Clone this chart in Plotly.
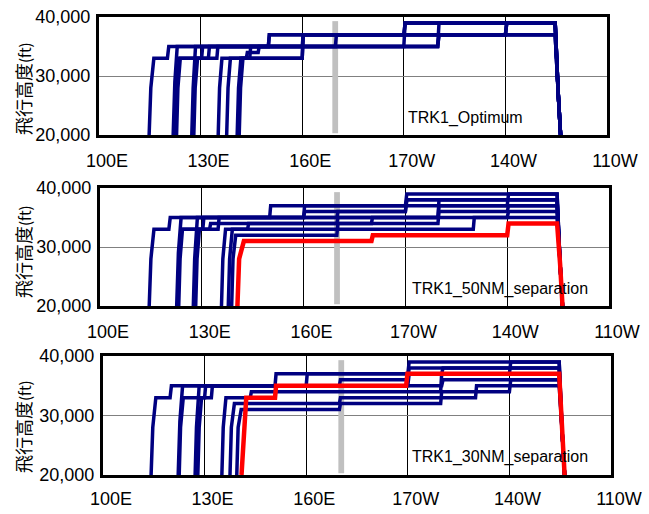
import plotly.graph_objects as go

# ---------------- data ----------------
X_TICKS = [100, 130, 160, 190, 220, 250]
X_LABELS = ["100E", "130E", "160E", "170W", "140W", "110W"]
Y_TICKS = [20000, 30000, 40000]

# common descent (longitude, altitude below the final level)
DESC_LON = [234.7, 235.6, 236.3]
DESC_ALT = [27000, 20000]

# Panel 1 : TRK1_Optimum
P1_LON = [
    [114.8, 115.3, 116.2, 120.2, 120.6, 169.8, 170.1, 190.0, 190.4],
    [121.9, 122.4, 123.1, 150.0, 150.3, 220.0, 220.4],
    [122.6, 123.0, 123.7, 130.3, 130.6, 200.0, 200.4],
    [127.4, 127.8, 128.5, 190.0, 190.4],
    [128.0, 128.4, 129.1, 132.3, 132.6, 200.0, 200.4],
    [122.9, 123.3, 124.0, 134.8, 135.1, 160.0, 160.3, 220.0, 220.4],
    [135.2, 135.6, 136.3, 160.0, 160.3, 220.0, 220.4],
    [137.7, 138.1, 138.8, 143.5, 143.8, 147.0, 147.3, 150.0, 150.3],
    [140.8, 141.2, 141.9, 160.0, 160.3, 190.0, 190.4],
    [141.4, 141.8, 142.5, 144.5, 144.8, 200.0, 200.4],
]
P1_ALT = [
    [20000, 28000, 33000, 33000, 35000, 35000, 37000, 37000, 39000],
    [20000, 29000, 35000, 35000, 37000, 37000, 39000],
    [20000, 28000, 33000, 33000, 35000, 35000, 37000],
    [20000, 28000, 35000, 35000, 39000],
    [20000, 28000, 33000, 33000, 35000, 35000, 39000],
    [20000, 28000, 33000, 33000, 35000, 35000, 37000, 37000, 39000],
    [20000, 28000, 33000, 33000, 37000, 37000, 39000],
    [20000, 28000, 33000, 33000, 34000, 34000, 35000, 35000, 37000],
    [20000, 28000, 33000, 33000, 37000, 37000, 39000],
    [20000, 28000, 33000, 33000, 35000, 35000, 37000],
]
P1_RED_LON = []
P1_RED_ALT = []

# Panel 2 : TRK1_50NM_separation
P2_LON = [
    [114.5, 115.0, 115.9, 120.3, 120.7, 150.0, 150.3, 190.0, 190.4],
    [122.6, 123.1, 123.9, 169.8, 170.1, 190.0, 190.4],
    [123.2, 123.6, 124.3, 130.3, 130.6, 160.0, 160.3, 220.0, 220.4],
    [127.5, 127.9, 128.7, 199.6, 199.9],
    [128.2, 128.6, 129.3, 132.3, 132.6, 199.6, 199.9, 220.0, 220.4],
    [135.8, 136.2, 137.0, 143.5, 143.8, 169.8, 170.1, 199.6, 199.9],
    [137.8, 138.2, 139.0, 210.0, 210.3],
    [138.8, 139.2, 140.0, 169.8, 170.1, 180.0, 180.3, 220.0, 220.4],
    [122.9, 123.3, 124.0, 134.8, 135.1, 160.0, 160.3, 190.0, 190.4],
]
P2_ALT = [
    [20000, 28000, 33000, 33000, 35000, 35000, 37000, 37000, 39000],
    [20000, 29000, 35000, 35000, 36000, 36000, 38000],
    [20000, 28000, 33000, 33000, 35000, 35000, 37000, 37000, 39000],
    [20000, 28000, 35000, 35000, 38000],
    [20000, 28000, 33000, 33000, 34000, 34000, 36000, 36000, 37000],
    [20000, 28000, 33000, 33000, 34000, 34000, 35000, 35000, 37000],
    [20000, 28000, 33000, 33000, 35000],
    [20000, 28000, 32000, 32000, 34000, 34000, 35000, 35000, 36000],
    [20000, 28000, 33000, 33000, 35000, 35000, 36000, 36000, 38000],
]
P2_RED_LON = [140.5, 141.0, 142.4, 180.0, 180.4, 220.0, 220.4]
P2_RED_ALT = [20000, 28000, 31000, 31000, 32000, 32000, 34000]

# Panel 3 : TRK1_30NM_separation
P3_LON = [
    [114.2, 114.7, 115.6, 119.8, 120.2, 150.8, 151.1, 190.0, 190.4],
    [122.2, 122.7, 123.5, 160.0, 160.3, 200.0, 200.4],
    [122.5, 122.9, 123.7, 130.0, 130.3, 169.8, 170.1, 190.0, 190.4],
    [127.2, 127.6, 128.4, 190.0, 190.4, 220.0, 220.4],
    [128.0, 128.4, 129.1, 132.0, 132.3, 200.0, 200.4],
    [135.1, 135.5, 136.3, 143.5, 143.8, 199.7, 200.0],
    [137.5, 137.9, 138.8, 169.8, 170.1, 210.0, 210.3],
    [139.5, 139.9, 140.8, 169.8, 170.1, 199.7, 200.0, 220.0, 220.4],
]
P3_ALT = [
    [20000, 28000, 33000, 33000, 35000, 35000, 37000, 37000, 39000],
    [20000, 29000, 35000, 35000, 37000, 37000, 38000],
    [20000, 28000, 33000, 33000, 35000, 35000, 36000, 36000, 38000],
    [20000, 28000, 35000, 35000, 37000, 37000, 39000],
    [20000, 28000, 33000, 33000, 35000, 35000, 36000],
    [20000, 28000, 33000, 33000, 34000, 34000, 37000],
    [20000, 28000, 32000, 32000, 33000, 33000, 35000],
    [20000, 28000, 31000, 31000, 32000, 32000, 34000, 34000, 36000],
]
P3_RED_LON = [140.9, 141.4, 142.3, 150.8, 151.1, 189.5, 189.9]
P3_RED_ALT = [20000, 25000, 33000, 33000, 35000, 35000, 37000]

# gray reference band (longitude range, altitude range)
BAND_LON = [(168.9, 170.6), (169.0, 170.7), (169.5, 171.2)]
BAND_ALT = (20300, 39300)

LABELS = ["TRK1_Optimum", "TRK1_50NM_separation", "TRK1_30NM_separation"]
Y_TITLE = "飛行高度<span style='font-size:15px'>(ft)</span>"

# ---------------- layout (pixels) ----------------
W, H = 649, 514
P_X = [(99, 607), (100, 609), (103, 611)]
P_Y = [(17, 135), (188, 306), (356, 475)]
LABEL_POS = [(406, 118), (410, 289), (410, 457)]
YTITLE_POS = [(23, 89), (23, 252), (23, 427)]
XLABEL_STANDOFF = [7, 7, 5]

NAVY = "#000080"
RED = "#FF0000"

fig = go.Figure()

panels = [
    (P1_LON, P1_ALT, P1_RED_LON, P1_RED_ALT),
    (P2_LON, P2_ALT, P2_RED_LON, P2_RED_ALT),
    (P3_LON, P3_ALT, P3_RED_LON, P3_RED_ALT),
]


def with_descent(lon, alt):
    return list(lon) + DESC_LON, list(alt) + [alt[-1]] + DESC_ALT


for k, (lons, alts, rlon, ralt) in enumerate(panels):
    sfx = "" if k == 0 else str(k + 1)
    for lon, alt in zip(lons, alts):
        xs, ys = with_descent(lon, alt)
        fig.add_trace(go.Scatter(x=xs, y=ys, mode="lines",
                                 line=dict(color=NAVY, width=3.5),
                                 xaxis="x" + sfx, yaxis="y" + sfx,
                                 showlegend=False, hoverinfo="skip"))
    if rlon:
        xs, ys = with_descent(rlon, ralt)
        fig.add_trace(go.Scatter(x=xs, y=ys, mode="lines",
                                 line=dict(color=RED, width=4.5),
                                 xaxis="x" + sfx, yaxis="y" + sfx,
                                 showlegend=False, hoverinfo="skip"))

    x0, x1 = P_X[k]
    y0, y1 = P_Y[k]
    xdom = [x0 / W, x1 / W]
    ydom = [1 - y1 / H, 1 - y0 / H]
    fig.update_layout(**{
        "xaxis" + sfx: dict(
            domain=xdom, range=[100, 250], anchor="y" + sfx, automargin=False,
            tickvals=X_TICKS, ticktext=X_LABELS,
            showgrid=True, gridcolor="#000000", gridwidth=1,
            showline=True, linecolor="#000000", linewidth=3, mirror=True,
            ticks="", ticklabelstandoff=XLABEL_STANDOFF[k], ticklabelshift=8,
            tickfont=dict(family="Liberation Sans, Arial", size=18, color="#000000"),
            zeroline=False, fixedrange=True),
        "yaxis" + sfx: dict(
            domain=ydom, range=[20000, 40000], anchor="x" + sfx, automargin=False,
            tickvals=Y_TICKS, tickformat=",",
            showgrid=True, gridcolor="#808080", gridwidth=1,
            showline=True, linecolor="#000000", linewidth=3, mirror=True,
            ticks="", ticklabelstandoff=2,
            tickfont=dict(family="Liberation Sans, Arial", size=18, color="#000000"),
            zeroline=False, fixedrange=True),
    })

    b0, b1 = BAND_LON[k]
    fig.add_shape(type="rect", xref="x" + sfx, yref="y" + sfx,
                  x0=b0, x1=b1, y0=BAND_ALT[0], y1=BAND_ALT[1],
                  fillcolor="#C0C0C0", line=dict(width=0), layer="between")

    lx, ly = LABEL_POS[k]
    fig.add_annotation(x=lx / W, y=1 - ly / H, xref="paper", yref="paper",
                       text=LABELS[k], showarrow=False, xanchor="left", yanchor="middle",
                       font=dict(family="Liberation Sans, Arial", size=16, color="#000000"))
    tx, ty = YTITLE_POS[k]
    fig.add_annotation(x=tx / W, y=1 - ty / H, xref="paper", yref="paper",
                       text=Y_TITLE, showarrow=False, textangle=-90,
                       xanchor="center", yanchor="middle",
                       font=dict(family="Noto Sans CJK JP", size=18, color="#000000"))

fig.update_layout(width=W, height=H, margin=dict(l=0, r=0, t=0, b=0, pad=0),
                  paper_bgcolor="#FFFFFF", plot_bgcolor="#FFFFFF",
                  showlegend=False)

fig.write_html("out.html")
